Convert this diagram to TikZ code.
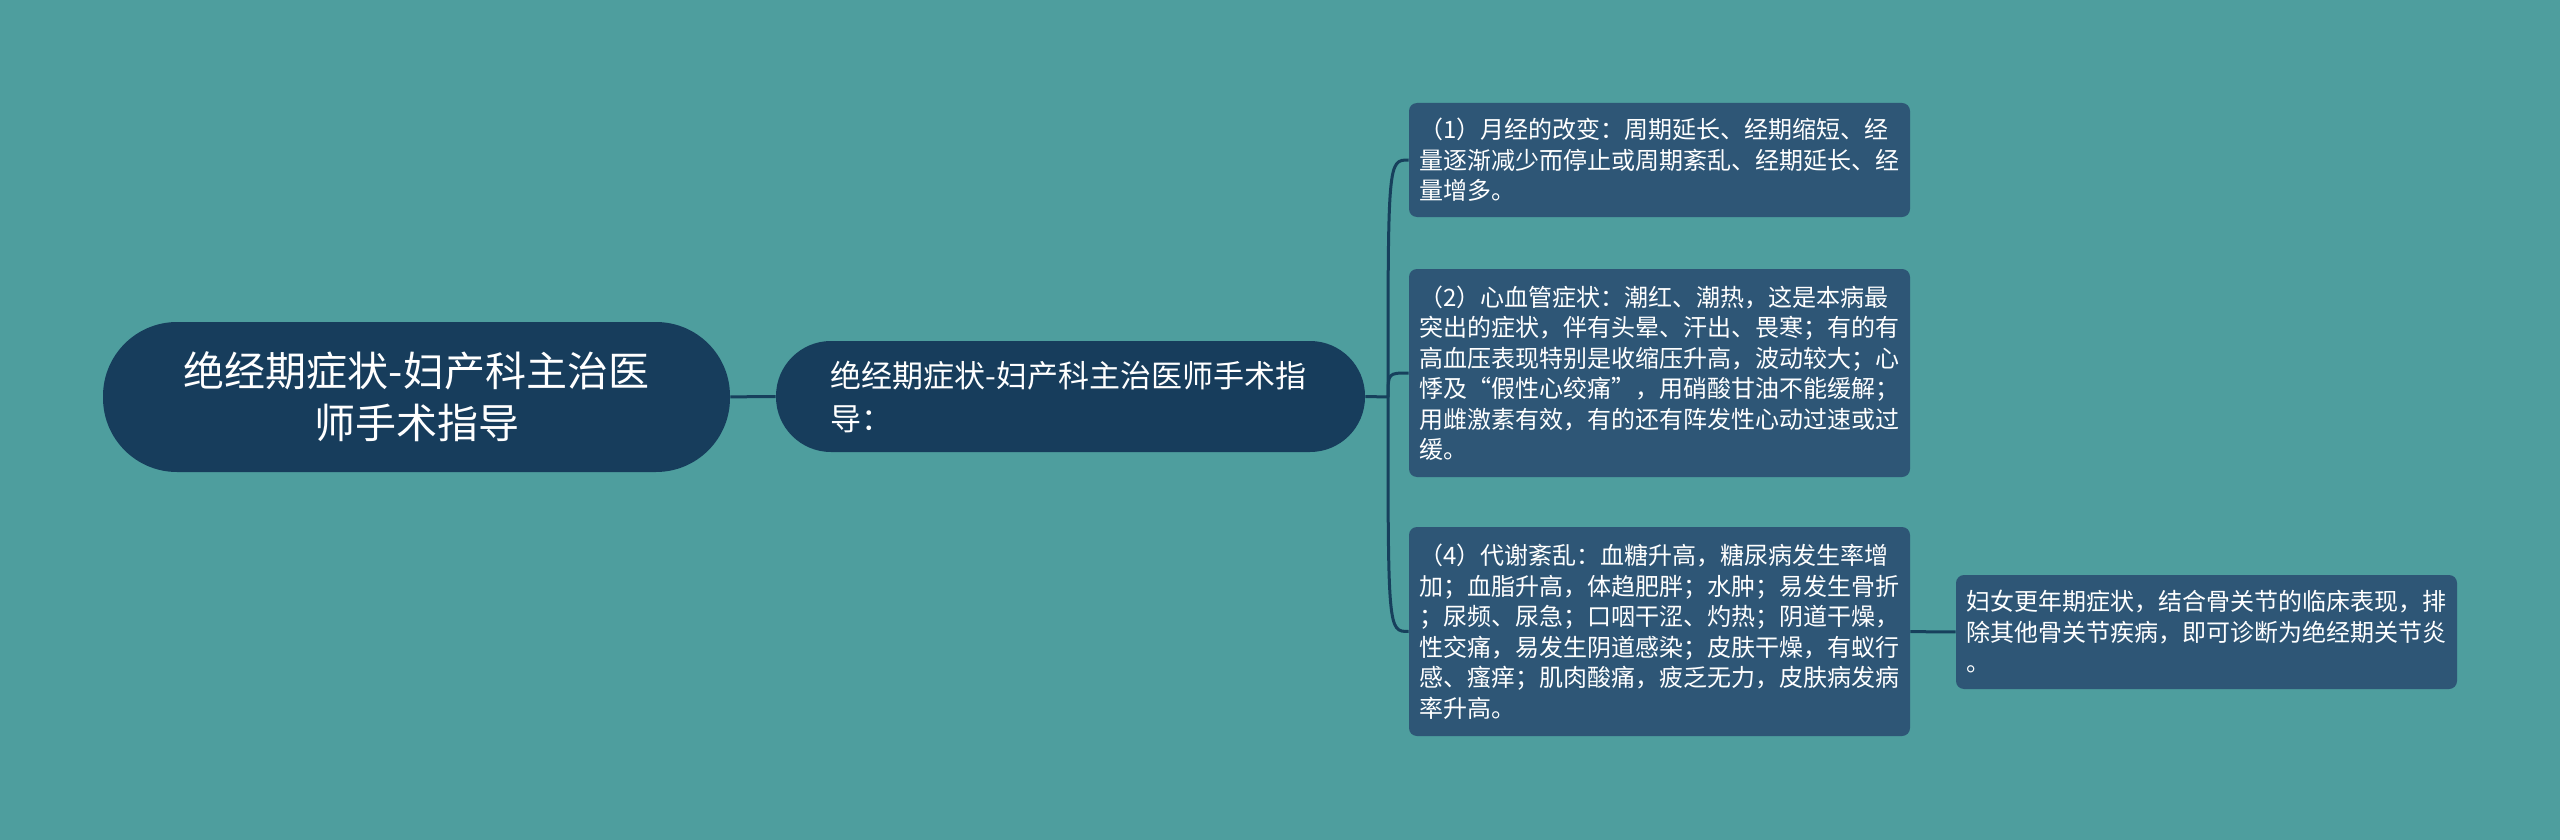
\documentclass[tikz,border=0pt]{standalone}
\usepackage{fontspec}
\setmainfont{Noto Sans CJK SC}
\usetikzlibrary{calc}
\definecolor{bgColor}{HTML}{4E9E9E}
\definecolor{topicColor}{HTML}{173D5C}
\definecolor{boxColor}{HTML}{2E5676}
\definecolor{lineColor}{HTML}{17405C}
\tikzset{topic state/.style={fill=topicColor, text=white, inner sep=0pt, align=center,
	minimum width=313.5pt, minimum height=75pt, rounded corners=37pt,
	font=\fontsize{20.5pt}{26pt}\selectfont}}
\tikzset{main state/.style={fill=topicColor, text=white, inner sep=0pt, align=left,
	text width=240pt, minimum width=294.5pt, minimum height=55.5pt, rounded corners=27.5pt,
	font=\fontsize{15.5pt}{21.5pt}\selectfont}}
\tikzset{detail state/.style={fill=boxColor, text=white, inner xsep=5.25pt, inner ysep=0pt, align=left,
	text width=240pt, minimum width=250.5pt, rounded corners=4pt,
	font=\fontsize{12pt}{15.25pt}\selectfont}}
\tikzset{branch/.style={draw=lineColor, line width=1.5pt}}
\begin{document}
\begin{tikzpicture}[x=0.5pt, y=-0.5pt]
	\useasboundingbox (0,0) rectangle (2560,840);
	\fill[bgColor] (0,0) rectangle (2560,840);
	\node[topic state] at (416.5,397) (topic) {绝经期症状-妇产科主治医\\师手术指导};
	\node[main state] at (1070.5,396.5) (guide) {绝经期症状-妇产科主治医师手术指\\导：};
	\coordinate (fork) at (1388,397);
	\node[detail state, minimum height=57pt] at (1659.5,160) (menses)
		{（1）月经的改变：周期延长、经期缩短、经\\量逐渐减少而停止或周期紊乱、经期延长、经\\量增多。};
	\node[detail state, minimum height=104pt] at (1659.5,373) (heart)
		{（2）心血管症状：潮红、潮热，这是本病最\\突出的症状，伴有头晕、汗出、畏寒；有的有\\高血压表现特别是收缩压升高，波动较大；心\\悸及“假性心绞痛”，用硝酸甘油不能缓解；\\用雌激素有效，有的还有阵发性心动过速或过\\缓。};
	\node[detail state, minimum height=104.5pt] at (1659.5,631.5) (metab)
		{（4）代谢紊乱：血糖升高，糖尿病发生率增\\加；血脂升高，体趋肥胖；水肿；易发生骨折\\；尿频、尿急；口咽干涩、灼热；阴道干燥，\\性交痛，易发生阴道感染；皮肤干燥，有蚁行\\感、瘙痒；肌肉酸痛，疲乏无力，皮肤病发病\\率升高。};
	\node[detail state, minimum height=57pt] at (2206.5,632) (joint)
		{妇女更年期症状，结合骨关节的临床表现，排\\除其他骨关节疾病，即可诊断为绝经期关节炎\\。};
	\path[branch] (topic) -- (guide);
	\path[branch] (guide.east) -- (fork);
	\path[branch] (fork) .. controls (fork |- menses.west) .. (menses.west);
	\path[branch] (fork) .. controls (fork |- heart.west) .. (heart.west);
	\path[branch] (fork) .. controls (fork |- metab.west) .. (metab.west);
	\path[branch] (metab) -- (joint);
\end{tikzpicture}
\end{document}
